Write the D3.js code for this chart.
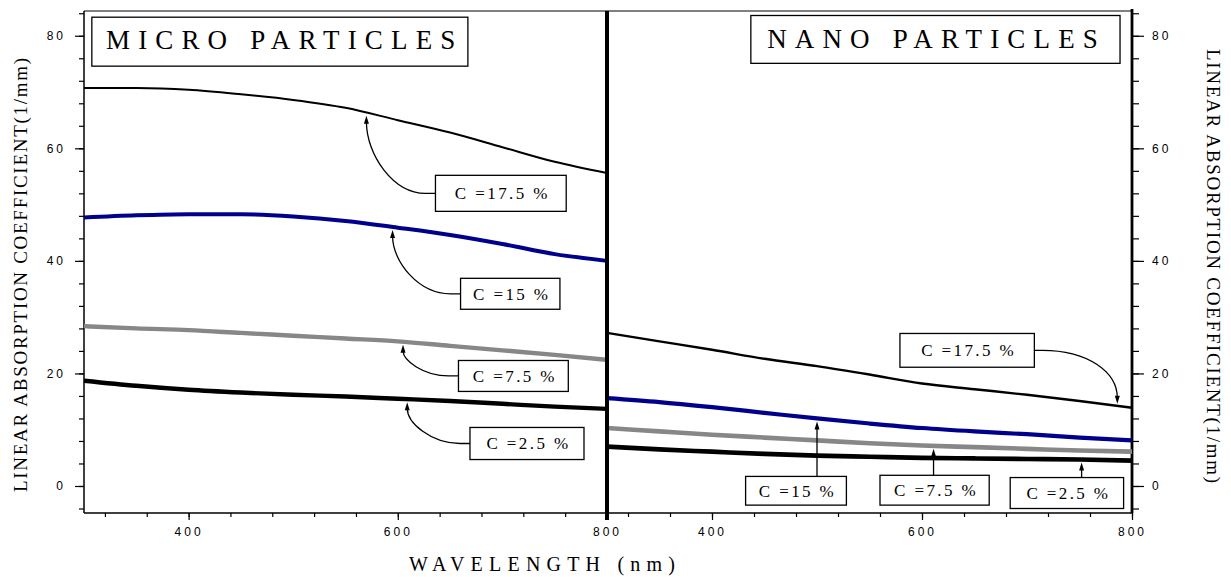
<!DOCTYPE html>
<html>
<head>
<meta charset="utf-8">
<script src="https://cdn.jsdelivr.net/npm/d3@7"></script>
<style>
  html, body { margin: 0; padding: 0; background: #fff; }
  svg { display: block; }
  .tick text { font-family: "Liberation Sans", Arial, sans-serif; font-size: 12px; letter-spacing: 3px; fill: #000; }
  .tick line { stroke: #000; stroke-width: 1.2px; }
</style>
</head>
<body>
<svg id="chart" width="1231" height="577"></svg>
<script>
// Wavelength grid (nm) shared by every curve
const wavelength = [300, 350, 400, 450, 500, 550, 600, 650, 700, 750, 800];

// Linear absorption coefficient (1/mm), micro particles
const micro17_5 = [70.7, 70.7, 70.4, 69.6, 68.6, 67.2, 65.0, 62.8, 60.2, 57.6, 55.6];
const micro15   = [47.7, 48.1, 48.3, 48.3, 47.9, 47.1, 45.9, 44.6, 43.0, 41.2, 40.0];
const micro7_5  = [28.4, 28.0, 27.7, 27.2, 26.7, 26.2, 25.7, 24.9, 24.1, 23.3, 22.4];
const micro2_5  = [18.7, 17.8, 17.1, 16.6, 16.2, 15.9, 15.5, 15.1, 14.6, 14.1, 13.7];

// Linear absorption coefficient (1/mm), nano particles
const nano17_5 = [27.2, 25.7, 24.2, 22.6, 21.3, 19.8, 18.2, 17.2, 16.2, 15.1, 13.9];
const nano15   = [15.6, 14.9, 14.0, 13.0, 12.0, 11.1, 10.3, 9.7, 9.2, 8.6, 8.1];
const nano7_5  = [10.3, 9.7, 9.1, 8.6, 8.1, 7.6, 7.2, 6.9, 6.6, 6.3, 6.1];
const nano2_5  = [7.0, 6.5, 6.1, 5.7, 5.4, 5.2, 5.0, 4.9, 4.8, 4.7, 4.5];

// Concentration labels
const concLabels = ["C =17.5 %", "C =15 %", "C =7.5 %", "C =2.5 %"];

// Axis ticks
const yMajorTicks = [0, 20, 40, 60, 80];
const yMinorTicks = d3.range(-4, 85, 4);
const xMajorTicks = [400, 600, 800];
const xMinorTicks = d3.range(320, 801, 40);

// ---- layout ----
const svg = d3.select("#chart");
const X0 = 84, XM = 607, X1 = 1132, YT = 11, YB = 513;

const xMicro = d3.scaleLinear().domain([300, 800]).range([X0, XM]);
const xNano  = d3.scaleLinear().domain([300, 800]).range([XM, X1]);
const y = d3.scaleLinear().domain([-4.8, 84.4]).range([YB, YT]);

const styles = [
  { color: "#000000", widthMicro: 2.0, widthNano: 2.4 },
  { color: "#00008c", widthMicro: 4.0, widthNano: 4.2 },
  { color: "#878787", widthMicro: 4.4, widthNano: 4.6 },
  { color: "#000000", widthMicro: 4.4, widthNano: 4.6 }
];

const microSeries = [micro17_5, micro15, micro7_5, micro2_5];
const nanoSeries  = [nano17_5, nano15, nano7_5, nano2_5];

// ---- axes ----
// left axis (micro panel)
svg.append("g").attr("transform", `translate(${X0},0)`)
  .call(d3.axisLeft(y).tickValues(yMinorTicks).tickSize(5).tickFormat(""))
  .call(g => g.select(".domain").remove());
svg.append("g").attr("transform", `translate(${X0},0)`)
  .call(d3.axisLeft(y).tickValues(yMajorTicks).tickSize(9).tickPadding(9))
  .call(g => g.select(".domain").remove());

// right axis (nano panel)
svg.append("g").attr("transform", `translate(${X1},0)`)
  .call(d3.axisRight(y).tickValues(yMinorTicks).tickSize(7).tickFormat(""))
  .call(g => g.select(".domain").remove());
svg.append("g").attr("transform", `translate(${X1},0)`)
  .call(d3.axisRight(y).tickValues(yMajorTicks).tickSize(12).tickPadding(8))
  .call(g => g.select(".domain").remove());

// bottom axes
[xMicro, xNano].forEach(xs => {
  svg.append("g").attr("transform", `translate(0,${YB})`)
    .call(d3.axisBottom(xs).tickValues(xMinorTicks).tickSize(4).tickFormat(""))
    .call(g => g.select(".domain").remove());
  svg.append("g").attr("transform", `translate(0,${YB})`)
    .call(d3.axisBottom(xs).tickValues(xMajorTicks).tickSize(7).tickPadding(7))
    .call(g => g.select(".domain").remove());
});

// frame lines
svg.append("line").attr("x1", X0).attr("x2", X1).attr("y1", YT).attr("y2", YT)
  .attr("stroke", "#000").attr("stroke-width", 1.2);
svg.append("line").attr("x1", X0).attr("x2", X1).attr("y1", YB).attr("y2", YB)
  .attr("stroke", "#000").attr("stroke-width", 1.5);
svg.append("line").attr("x1", X0).attr("x2", X0).attr("y1", YT).attr("y2", YB)
  .attr("stroke", "#000").attr("stroke-width", 1.5);
svg.append("line").attr("x1", X1).attr("x2", X1).attr("y1", YT - 2).attr("y2", YB)
  .attr("stroke", "#000").attr("stroke-width", 2.8);

// ---- curves ----
function drawSeries(xs, series, key) {
  const line = d3.line()
    .x((d, i) => xs(wavelength[i]))
    .y(d => y(d))
    .curve(d3.curveMonotoneX);
  series.forEach((vals, k) => {
    svg.append("path")
      .datum(vals)
      .attr("d", line)
      .attr("fill", "none")
      .attr("stroke", styles[k].color)
      .attr("stroke-width", styles[k][key])
      .attr("stroke-linejoin", "round");
  });
}
drawSeries(xMicro, microSeries, "widthMicro");
drawSeries(xNano, nanoSeries, "widthNano");

// divider between panels
svg.append("line").attr("x1", XM).attr("x2", XM).attr("y1", YT).attr("y2", YB + 7)
  .attr("stroke", "#000").attr("stroke-width", 4);

// ---- callouts ----
function valueAt(series, nm) {
  return d3.scaleLinear().domain(wavelength).range(series)(nm);
}

// box extents in (nm, coefficient) units; target = wavelength where the arrow meets its curve
const microCallouts = [
  { box: [636, 761, 55.2, 48.8], target: 570, style: "curveLeft" },
  { box: [660, 755, 36.9, 31.4], target: 595, style: "curveLeft" },
  { box: [658, 763, 22.3, 16.8], target: 605, style: "curveLeft" },
  { box: [669, 778, 10.4, 4.7],  target: 609, style: "curveLeft" }
];
const nanoCallouts = [
  { box: [579, 707, 27.1, 21.1], target: 786, style: "curveRight" },
  { box: [432, 528, 1.7, -3.4],  target: 500, style: "up" },
  { box: [560, 664, 1.9, -3.4],  target: 611, style: "up" },
  { box: [684, 792, 1.5, -4.0],  target: 752, style: "up" }
];

function drawCallouts(xs, series, callouts) {
  callouts.forEach((c, k) => {
    const bx0 = xs(c.box[0]), bx1 = xs(c.box[1]);
    const by0 = y(c.box[2]), by1 = y(c.box[3]);
    const bym = (by0 + by1) / 2;
    const tx = xs(c.target);
    const ty = y(valueAt(series[k], c.target));
    const g = svg.append("g");
    let d, head;
    if (c.style === "curveLeft") {
      const px = bx0 - 10, tipY = ty + 3;
      d = `M${bx0},${bym} L${px},${bym} C${tx + 0.45 * (px - tx)},${bym} ${tx},${tipY + 0.5 * (bym - tipY)} ${tx},${tipY + 6}`;
      head = [[tx, tipY], [tx - 2.5, tipY + 8], [tx + 2.5, tipY + 8]];
    } else if (c.style === "curveRight") {
      const px = bx1 + 8, tipY = ty - 2;
      d = `M${bx1},${bym} L${px},${bym} C${px + 0.6 * (tx - px)},${bym} ${tx},${bym + 0.4 * (tipY - bym)} ${tx},${tipY - 6}`;
      head = [[tx, tipY], [tx - 2.5, tipY - 8], [tx + 2.5, tipY - 8]];
    } else {
      const tipY = ty + 3;
      d = `M${tx},${by0} L${tx},${tipY + 6}`;
      head = [[tx, tipY], [tx - 2.5, tipY + 8], [tx + 2.5, tipY + 8]];
    }
    g.append("path").attr("d", d).attr("fill", "none").attr("stroke", "#000").attr("stroke-width", 1.3);
    g.append("polygon").attr("points", head.map(p => p.join(",")).join(" ")).attr("fill", "#000");
    g.append("rect")
      .attr("x", bx0).attr("y", by0).attr("width", bx1 - bx0).attr("height", by1 - by0)
      .attr("fill", "#fff").attr("stroke", "#000").attr("stroke-width", 1.3);
    g.append("text")
      .attr("x", (bx0 + bx1) / 2 + 1.5).attr("y", bym + 6)
      .attr("text-anchor", "middle")
      .attr("font-family", "'Liberation Serif', 'Times New Roman', serif")
      .attr("font-size", 17).attr("letter-spacing", "2.4px")
      .text(concLabels[k]);
  });
}
drawCallouts(xMicro, microSeries, microCallouts);
drawCallouts(xNano, nanoSeries, nanoCallouts);

// ---- panel titles ----
const titles = [
  { text: "MICRO PARTICLES", xs: xMicro, box: [307.5, 667, 83.3, 74.6], textFrom: 321, textTo: 655 },
  { text: "NANO PARTICLES",  xs: xNano,  box: [437, 788.6, 83.6, 75.1], textFrom: 452.5, textTo: 767.5 }
];
titles.forEach(t => {
  const bx0 = t.xs(t.box[0]), bx1 = t.xs(t.box[1]);
  const by0 = y(t.box[2]), by1 = y(t.box[3]);
  svg.append("rect").attr("x", bx0).attr("y", by0).attr("width", bx1 - bx0).attr("height", by1 - by0)
    .attr("fill", "#fff").attr("stroke", "#000").attr("stroke-width", 1.3);
  const tx0 = t.xs(t.textFrom), tx1 = t.xs(t.textTo);
  svg.append("text")
    .attr("x", tx0).attr("y", by0 + 32)
    .attr("font-family", "'Liberation Serif', 'Times New Roman', serif")
    .attr("font-size", 27)
    .attr("textLength", tx1 - tx0).attr("lengthAdjust", "spacing")
    .text(t.text);
});

// ---- axis titles ----
const serif = "'Liberation Serif', 'Times New Roman', serif";
svg.append("text")
  .attr("transform", "translate(27,275) rotate(-90)")
  .attr("text-anchor", "middle")
  .attr("font-family", serif).attr("font-size", 19)
  .attr("textLength", 434).attr("lengthAdjust", "spacing")
  .text("LINEAR ABSORPTION COEFFICIENT(1/mm)");
svg.append("text")
  .attr("transform", "translate(1207,266) rotate(90)")
  .attr("text-anchor", "middle")
  .attr("font-family", serif).attr("font-size", 19)
  .attr("textLength", 434).attr("lengthAdjust", "spacing")
  .text("LINEAR ABSORPTION COEFFICIENT(1/mm)");
svg.append("text")
  .attr("x", 409).attr("y", 571)
  .attr("font-family", serif).attr("font-size", 20)
  .attr("textLength", 266).attr("lengthAdjust", "spacing")
  .text("WAVELENGTH (nm)");
</script>
</body>
</html>
